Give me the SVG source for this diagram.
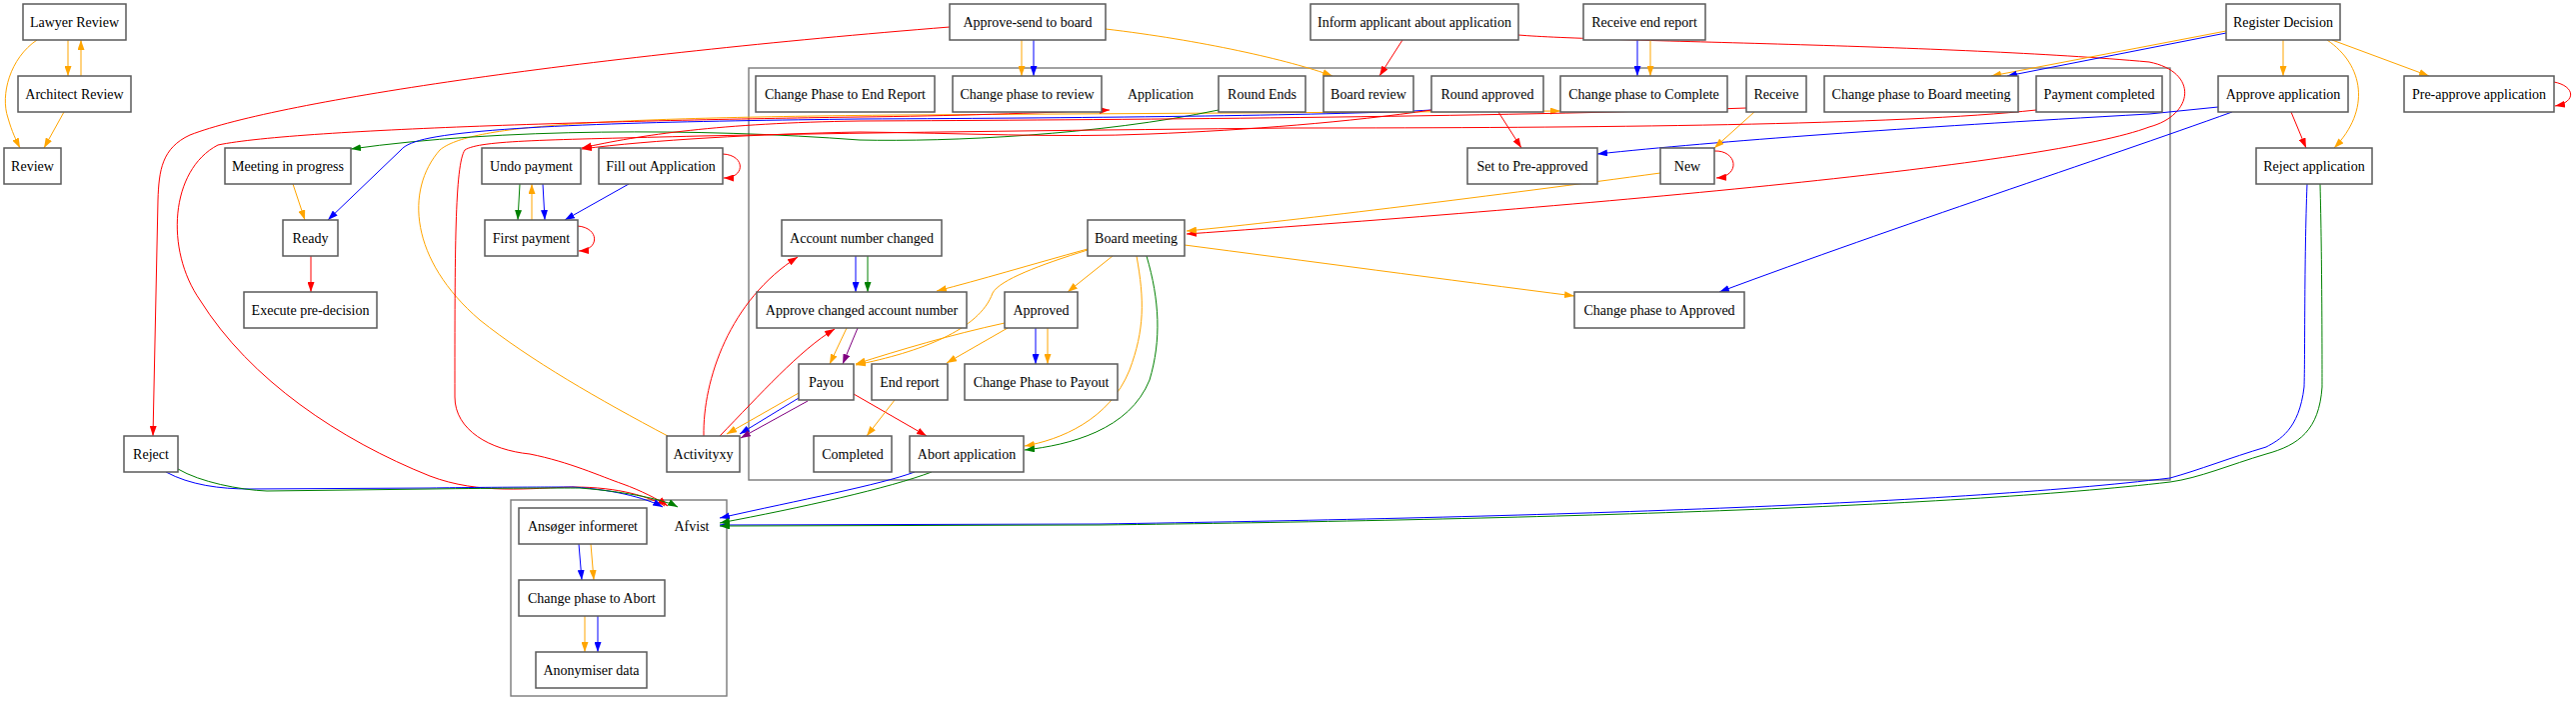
<svg xmlns="http://www.w3.org/2000/svg" width="2577" height="708" viewBox="0 0 2577 708">
<style>
.n rect{fill:#fff;stroke:#5a5a5a;stroke-width:1.5}
.n text{font-family:"Liberation Serif","Times New Roman",serif;font-size:14px;text-anchor:middle;fill:#000}
.cl{fill:none;stroke:#7a7a7a;stroke-width:1.4}
#edges path{fill:none;stroke-width:1}
.r{stroke:#f00;marker-end:url(#mr)}
.o{stroke:#ffa500;marker-end:url(#mo)}
.b{stroke:#00f;marker-end:url(#mb)}
.g{stroke:#008000;marker-end:url(#mg)}
.p{stroke:#800080;marker-end:url(#mp)}
</style>
<defs>
<marker id="mr" viewBox="0 0 10 7" refX="10" refY="3.5" markerWidth="10" markerHeight="7" markerUnits="userSpaceOnUse" orient="auto"><path d="M0,0L10,3.5L0,7z" fill="#f00"/></marker>
<marker id="mo" viewBox="0 0 10 7" refX="10" refY="3.5" markerWidth="10" markerHeight="7" markerUnits="userSpaceOnUse" orient="auto"><path d="M0,0L10,3.5L0,7z" fill="#ffa500"/></marker>
<marker id="mb" viewBox="0 0 10 7" refX="10" refY="3.5" markerWidth="10" markerHeight="7" markerUnits="userSpaceOnUse" orient="auto"><path d="M0,0L10,3.5L0,7z" fill="#00f"/></marker>
<marker id="mg" viewBox="0 0 10 7" refX="10" refY="3.5" markerWidth="10" markerHeight="7" markerUnits="userSpaceOnUse" orient="auto"><path d="M0,0L10,3.5L0,7z" fill="#008000"/></marker>
<marker id="mp" viewBox="0 0 10 7" refX="10" refY="3.5" markerWidth="10" markerHeight="7" markerUnits="userSpaceOnUse" orient="auto"><path d="M0,0L10,3.5L0,7z" fill="#800080"/></marker>
</defs>
<rect width="2577" height="708" fill="#fff"/>
<g id="clusters">
<rect id="cluster_application" class="cl" x="749" y="68" width="1422" height="412"/>
<rect id="cluster_afvist" class="cl" x="511" y="500" width="216" height="196"/>
</g>
<g id="edges">
<path class="o" d="M68,40L68,76"/>
<path class="o" d="M81,76L81,40"/>
<path class="o" d="M37,40C10,58 0,95 8,118C12,132 16,140 20,148"/>
<path class="o" d="M64,112L44,148"/>
<path class="o" d="M293,184L305,220"/>
<path class="r" d="M311,256L311,292"/>
<path class="r" d="M950,27C600,55 280,100 190,135C162,148 159,170 158,200L153,436"/>
<path class="o" d="M1022,40L1022,76"/>
<path class="b" d="M1034,40L1034,76"/>
<path class="o" d="M1106,29C1200,40 1290,60 1333,76"/>
<path class="r" d="M1403,40L1380,76"/>
<path class="r" d="M1519,35C1600,42 1950,44 2150,62C2200,72 2195,115 2150,127C2050,165 1600,205 1187,234"/>
<path class="o" d="M2227,31L1992,76"/>
<path class="b" d="M2227,33L2008,76"/>
<path class="o" d="M2284,40L2284,76"/>
<path class="o" d="M2328,40C2365,65 2372,110 2335,148"/>
<path class="o" d="M2333,40L2430,76"/>
<path class="r" d="M2555,82C2576,86 2578,102 2556,106"/>
<path class="r" d="M2292,112L2307,148"/>
<path class="b" d="M2219,107L2150,114C1900,128 1720,141 1598,154"/>
<path class="b" d="M2233,112C2100,160 1900,225 1720,292"/>
<path class="b" d="M1638,40L1638,76"/>
<path class="o" d="M1651,40L1651,76"/>
<path class="r" d="M1499,112L1522,148"/>
<path class="o" d="M1755,112L1715,148"/>
<path class="r" d="M1715,151C1738,150 1742,176 1717,178"/>
<path class="o" d="M1661,173C1500,195 1300,220 1187,231"/>
<path class="o" d="M1113,256L1068,292"/>
<path class="o" d="M1088,249C1030,265 980,280 937,291"/>
<path class="o" d="M1088,250C1040,265 1000,280 993,293C980,330 920,352 856,365"/>
<path class="o" d="M1005,323C950,335 900,350 856,364"/>
<path class="o" d="M1008,328L947,363"/>
<path class="o" d="M1137,256C1145,300 1145,330 1130,370C1110,420 1060,440 1025,446"/>
<path class="g" d="M1147,256C1160,300 1162,340 1150,380C1130,430 1070,445 1025,450"/>
<path class="o" d="M1185,245C1300,260 1450,280 1575,296"/>
<path class="b" d="M1036,328L1036,364"/>
<path class="o" d="M1048,328L1048,364"/>
<path class="b" d="M856,256L856,292"/>
<path class="g" d="M868,256L868,292"/>
<path class="o" d="M847,328L830,364"/>
<path class="p" d="M858,328L843,364"/>
<path class="o" d="M799,393L727,434"/>
<path class="b" d="M799,398L740,434"/>
<path class="p" d="M808,401L741,438"/>
<path class="r" d="M854,394L927,436"/>
<path class="o" d="M895,400L867,436"/>
<path class="r" d="M704,436C703,380 730,300 798,257"/>
<path class="r" d="M720,436C760,395 800,350 835,329"/>
<path class="o" d="M668,436C600,400 530,360 480,320C410,260 405,190 440,150C470,125 600,118 900,115L1561,111"/>
<path class="g" d="M520,184L518,220"/>
<path class="o" d="M532,220L532,184"/>
<path class="b" d="M543,184L545,220"/>
<path class="b" d="M629,184L565,220"/>
<path class="r" d="M723,154C746,155 746,178 724,178"/>
<path class="r" d="M578,226C600,228 600,250 579,251"/>
<path class="g" d="M1219,110C1100,135 950,142 860,140C700,128 500,128 351,149"/>
<path class="b" d="M1432,110C1350,115 1100,118 860,119C700,121 500,124 430,138C415,141 405,145 401,150L328,220"/>
<path class="r" d="M1432,110C1350,122 1250,130 1150,134C1060,138 960,133 860,132C760,134 650,140 582,149"/>
<path class="r" d="M665,506C650,497 620,487 573,487C530,488 480,495 430,476C340,440 250,380 200,300C165,250 170,170 218,145C300,128 650,120 860,117C950,116 1040,113 1110,110"/>
<path class="r" d="M1747,108C1500,117 1100,120 860,121C720,123 640,135 582,148"/>
<path class="r" d="M2037,110C1900,125 1600,128 1290,128C1100,130 900,132 700,136C550,140 480,140 465,150C455,165 455,250 455,397C455,430 490,450 530,454C570,462 600,476 623,484C640,490 660,500 668,506"/>
<path class="b" d="M166,472C190,485 220,489 250,489L430,488C500,487 560,487 573,487C620,490 650,500 663,507"/>
<path class="g" d="M178,469C200,482 240,490 267,491L430,489C500,488 560,488 580,488C630,492 665,500 678,507"/>
<path class="b" d="M2308,184C2305,260 2306,360 2305,387C2300,430 2280,440 2267,447C2230,458 2200,470 2171,478C1950,505 1500,518 1100,524L720,525"/>
<path class="g" d="M2321,184C2323,260 2323,360 2323,387C2320,430 2300,445 2267,454C2230,465 2200,478 2171,482C1950,508 1500,520 1100,525L720,526"/>
<path class="b" d="M915,472C880,485 800,500 720,518"/>
<path class="g" d="M932,472C890,488 800,508 720,523"/>
<path class="b" d="M579,544L582,580"/>
<path class="o" d="M591,544L594,580"/>
<path class="o" d="M585,616L585,652"/>
<path class="b" d="M598,616L598,652"/>
</g>
<g id="n_lawyer" class="n"><rect x="23" y="4" width="103" height="36"/><text x="74.5" y="27">Lawyer Review</text></g>
<g id="n_arch" class="n"><rect x="18" y="76" width="113" height="36"/><text x="74.5" y="99">Architect Review</text></g>
<g id="n_review" class="n"><rect x="4" y="148" width="57" height="36"/><text x="32.5" y="171">Review</text></g>
<g id="n_meeting" class="n"><rect x="225" y="148" width="126" height="36"/><text x="288" y="171">Meeting in progress</text></g>
<g id="n_ready" class="n"><rect x="283" y="220" width="55" height="36"/><text x="310.5" y="243">Ready</text></g>
<g id="n_exec" class="n"><rect x="244" y="292" width="133" height="36"/><text x="310.5" y="315">Execute pre-decision</text></g>
<g id="n_reject" class="n"><rect x="124" y="436" width="54" height="36"/><text x="151" y="459">Reject</text></g>
<g id="n_undo" class="n"><rect x="482" y="148" width="99" height="36"/><text x="531.5" y="171">Undo payment</text></g>
<g id="n_fill" class="n"><rect x="599" y="148" width="124" height="36"/><text x="661" y="171">Fill out Application</text></g>
<g id="n_first" class="n"><rect x="485" y="220" width="93" height="36"/><text x="531.5" y="243">First payment</text></g>
<g id="n_asb" class="n"><rect x="950" y="4" width="156" height="36"/><text x="1028" y="27">Approve-send to board</text></g>
<g id="n_inform" class="n"><rect x="1311" y="4" width="208" height="36"/><text x="1415" y="27">Inform applicant about application</text></g>
<g id="n_rer" class="n"><rect x="1584" y="4" width="122" height="36"/><text x="1645" y="27">Receive end report</text></g>
<g id="n_regd" class="n"><rect x="2227" y="4" width="114" height="36"/><text x="2284" y="27">Register Decision</text></g>
<g id="n_cpe" class="n"><rect x="756" y="76" width="179" height="36"/><text x="845.5" y="99">Change Phase to End Report</text></g>
<g id="n_cpr" class="n"><rect x="953" y="76" width="149" height="36"/><text x="1027.5" y="99">Change phase to review</text></g>
<g id="n_app" class="n"><text x="1161" y="99">Application</text></g>
<g id="n_rends" class="n"><rect x="1219" y="76" width="87" height="36"/><text x="1262.5" y="99">Round Ends</text></g>
<g id="n_brev" class="n"><rect x="1324" y="76" width="90" height="36"/><text x="1369" y="99">Board review</text></g>
<g id="n_rapp" class="n"><rect x="1432" y="76" width="112" height="36"/><text x="1488" y="99">Round approved</text></g>
<g id="n_cpc" class="n"><rect x="1561" y="76" width="167" height="36"/><text x="1644.5" y="99">Change phase to Complete</text></g>
<g id="n_receive" class="n"><rect x="1747" y="76" width="60" height="36"/><text x="1777" y="99">Receive</text></g>
<g id="n_cpbm" class="n"><rect x="1825" y="76" width="194" height="36"/><text x="1922" y="99">Change phase to Board meeting</text></g>
<g id="n_paycomp" class="n"><rect x="2037" y="76" width="126" height="36"/><text x="2100" y="99">Payment completed</text></g>
<g id="n_apapp" class="n"><rect x="2219" y="76" width="130" height="36"/><text x="2284" y="99">Approve application</text></g>
<g id="n_preapp" class="n"><rect x="2405" y="76" width="150" height="36"/><text x="2480" y="99">Pre-approve application</text></g>
<g id="n_setpre" class="n"><rect x="1468" y="148" width="130" height="36"/><text x="1533" y="171">Set to Pre-approved</text></g>
<g id="n_new" class="n"><rect x="1661" y="148" width="54" height="36"/><text x="1688" y="171">New</text></g>
<g id="n_rejapp" class="n"><rect x="2257" y="148" width="116" height="36"/><text x="2315" y="171">Reject application</text></g>
<g id="n_acc" class="n"><rect x="782" y="220" width="160" height="36"/><text x="862" y="243">Account number changed</text></g>
<g id="n_bm" class="n"><rect x="1088" y="220" width="97" height="36"/><text x="1136.5" y="243">Board meeting</text></g>
<g id="n_apchg" class="n"><rect x="757" y="292" width="210" height="36"/><text x="862" y="315">Approve changed account number</text></g>
<g id="n_approved" class="n"><rect x="1005" y="292" width="73" height="36"/><text x="1041.5" y="315">Approved</text></g>
<g id="n_cpa" class="n"><rect x="1575" y="292" width="170" height="36"/><text x="1660" y="315">Change phase to Approved</text></g>
<g id="n_payou" class="n"><rect x="799" y="364" width="55" height="36"/><text x="826.5" y="387">Payou</text></g>
<g id="n_endrep" class="n"><rect x="872" y="364" width="76" height="36"/><text x="910" y="387">End report</text></g>
<g id="n_cpp" class="n"><rect x="965" y="364" width="153" height="36"/><text x="1041.5" y="387">Change Phase to Payout</text></g>
<g id="n_activ" class="n"><rect x="667" y="436" width="73" height="36"/><text x="703.5" y="459">Activityxy</text></g>
<g id="n_completed" class="n"><rect x="814" y="436" width="78" height="36"/><text x="853" y="459">Completed</text></g>
<g id="n_abort" class="n"><rect x="910" y="436" width="114" height="36"/><text x="967" y="459">Abort application</text></g>
<g id="n_ansoger" class="n"><rect x="519" y="508" width="128" height="36"/><text x="583" y="531">Ansøger informeret</text></g>
<g id="n_afvist" class="n"><text x="692" y="531">Afvist</text></g>
<g id="n_cpab" class="n"><rect x="519" y="580" width="146" height="36"/><text x="592" y="603">Change phase to Abort</text></g>
<g id="n_anon" class="n"><rect x="536" y="652" width="111" height="36"/><text x="591.5" y="675">Anonymiser data</text></g>
</svg>
